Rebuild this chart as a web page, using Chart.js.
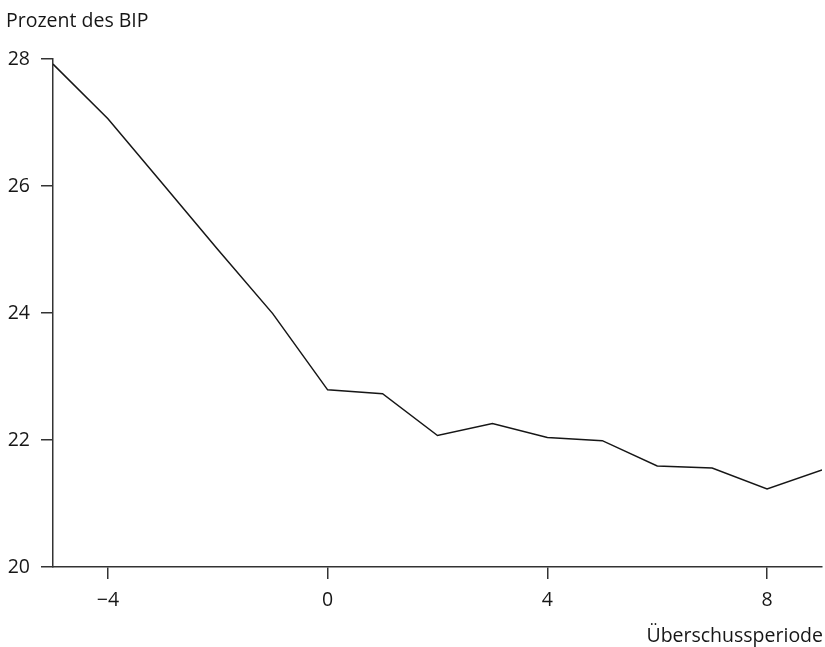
<!DOCTYPE html>
<html>
<head>
<meta charset="utf-8">
<script src="https://cdn.jsdelivr.net/npm/chart.js@4/dist/chart.umd.min.js"></script>
<style>
  html, body { margin: 0; padding: 0; background: #fff; }
  #wrap { width: 825px; height: 647px; }
</style>
</head>
<body>
<div id="wrap"><canvas id="chart"></canvas></div>
<script>
const periods = [-5, -4, -3, -2, -1, 0, 1, 2, 3, 4, 5, 6, 7, 8, 9];
const gdpShare = [27.92, 27.06, 26.03, 25.0, 23.99, 22.79, 22.73, 22.07, 22.26, 22.04, 21.99, 21.59, 21.56, 21.23, 21.53];
const xTicks = [-4, 0, 4, 8];
const yTitle = 'Prozent des BIP';
const xTitle = 'Überschussperiode';

const FONT = '"Open Sans", "Noto Sans", sans-serif';
const ink = '#161616';
const axisGrey = '#333';

const titles = {
  id: 'titles',
  afterDraw(chart) {
    const { ctx, chartArea } = chart;
    ctx.save();
    ctx.fillStyle = ink;
    ctx.font = '19.5px ' + FONT;
    ctx.textBaseline = 'middle';
    ctx.textAlign = 'left';
    ctx.fillText(yTitle, 6, 21);
    ctx.textAlign = 'right';
    ctx.fillText(xTitle, chartArea.right + 1, 636);
    ctx.restore();
  }
};

new Chart(document.getElementById('chart'), {
  type: 'line',
  data: {
    datasets: [{
      data: periods.map((p, i) => ({ x: p, y: gdpShare[i] })),
      borderColor: ink,
      borderWidth: 1.5,
      pointRadius: 0,
      tension: 0,
      fill: false
    }]
  },
  options: {
    responsive: true,
    maintainAspectRatio: false,
    animation: false,
    layout: { padding: { top: 59, right: 3, bottom: 0, left: 0 } },
    plugins: { legend: { display: false }, tooltip: { enabled: false } },
    scales: {
      x: {
        type: 'linear',
        min: -5,
        max: 9,
        afterBuildTicks: (scale) => { scale.ticks = xTicks.map(v => ({ value: v })); },
        afterFit: (scale) => { scale.height = 80; },
        grid: { drawOnChartArea: false, drawTicks: true, tickLength: 12, color: axisGrey, lineWidth: 1.5 },
        border: { color: axisGrey, width: 1.5 },
        ticks: {
          color: ink,
          padding: 10,
          font: { family: FONT, size: 19.5 },
          callback: (v) => (v < 0 ? '\u2212' + Math.abs(v) : String(v))
        }
      },
      y: {
        min: 20,
        max: 28,
        afterFit: (scale) => { scale.width = 53; },
        grid: { drawOnChartArea: false, drawTicks: true, tickLength: 12, color: axisGrey, lineWidth: 1.5 },
        border: { color: axisGrey, width: 1.5 },
        ticks: {
          stepSize: 2,
          color: ink,
          padding: 11,
          font: { family: FONT, size: 19.5 }
        }
      }
    }
  },
  plugins: [titles]
});
</script>
</body>
</html>
